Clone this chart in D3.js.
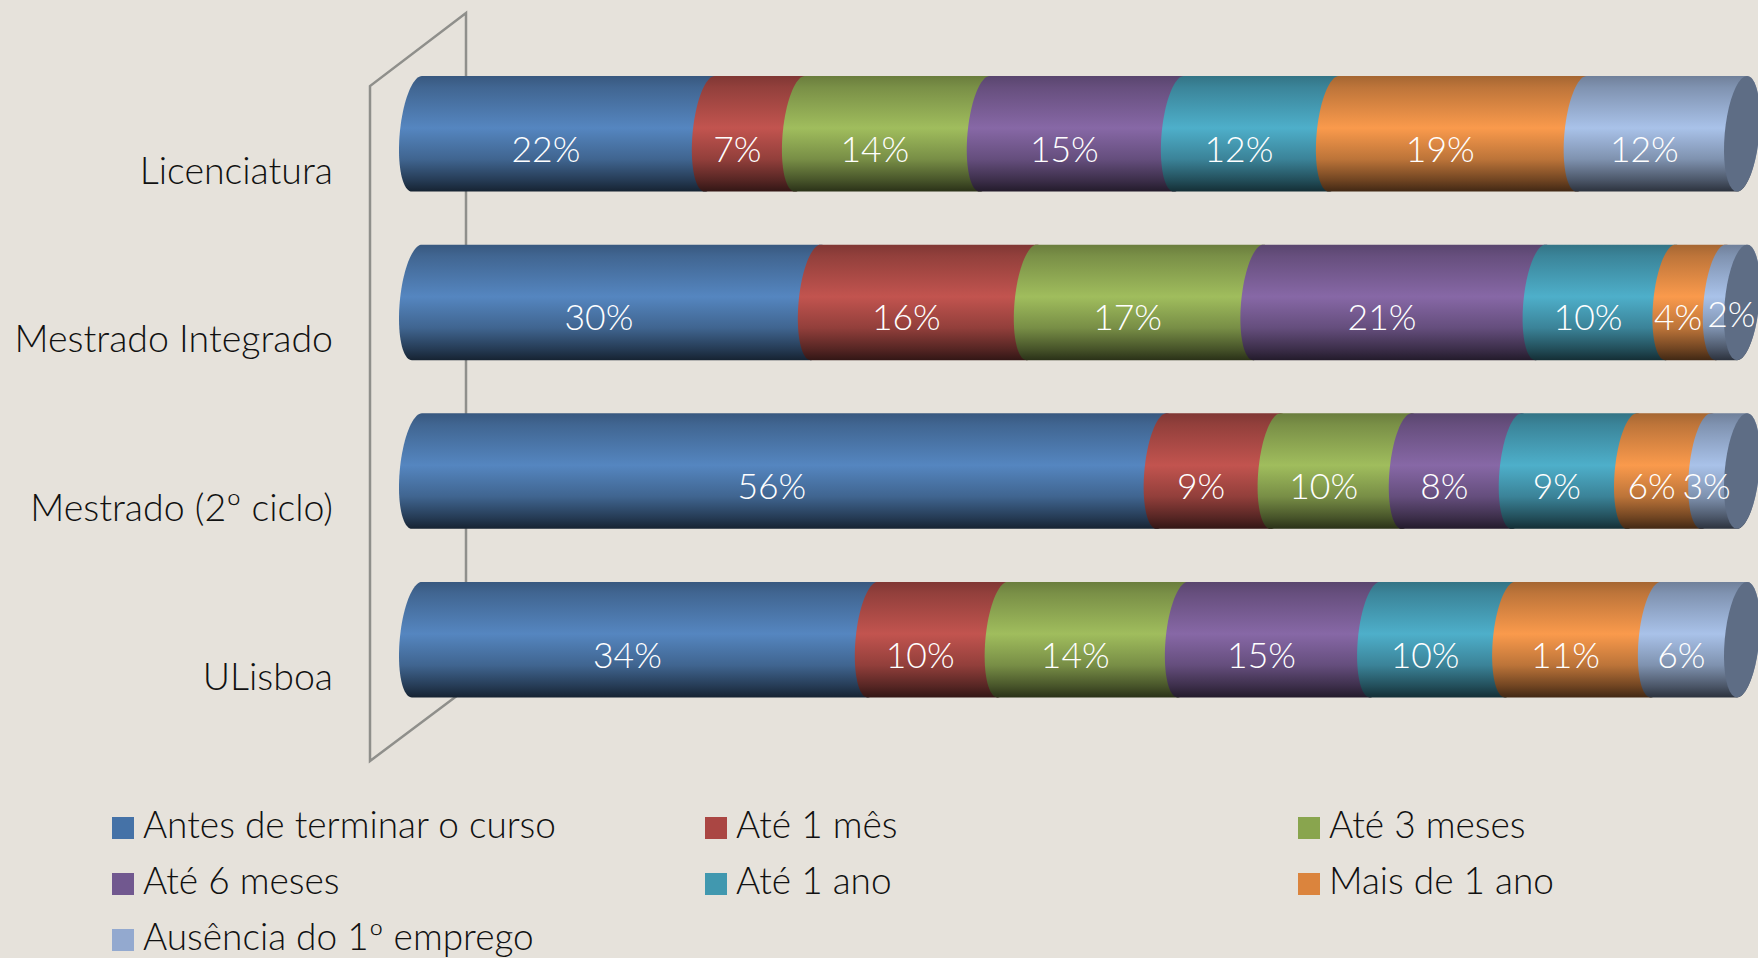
<!DOCTYPE html>
<html>
<head>
<meta charset="utf-8">
<title>Tempo até ao primeiro emprego</title>
<script src="https://cdnjs.cloudflare.com/ajax/libs/d3/7.8.5/d3.min.js"></script>
<style>
	html, body { margin: 0; padding: 0; background: #e6e2db; overflow: hidden; }
	text { font-family: Lato, "Open Sans", sans-serif; font-weight: 300; }
</style>
</head>
<body>
<div id="chart"></div>
<script>
const categories = ["Licenciatura", "Mestrado Integrado", "Mestrado (2º ciclo)", "ULisboa"];
const seriesNames = ["Antes de terminar o curso", "Até 1 mês", "Até 3 meses", "Até 6 meses", "Até 1 ano", "Mais de 1 ano", "Ausência do 1º emprego"];

// Values per category, read from the segment edges (percent)
const licenciatura = [22.1, 6.8, 13.95, 14.65, 11.7, 18.7, 12.1];
const mestradoIntegrado = [30.1, 16.3, 17.1, 21.3, 9.8, 3.8, 1.6];
const mestradoCiclo = [56.2, 8.6, 9.9, 8.3, 8.7, 5.6, 2.7];
const uLisboa = [34.4, 9.8, 13.6, 14.51, 10.19, 11.0, 6.49];

const barColours = ["#5586c0", "#c2544f", "#a0bd5d", "#8768a6", "#4eafca", "#fa9a4c", "#a9c2e9"];
const legendColours = ["#4572a7", "#aa4643", "#89a54e", "#71588f", "#4198af", "#db843d", "#93a9cf"];

const rows = [licenciatura, mestradoIntegrado, mestradoCiclo, uLisboa];
const table = categories.map((c, i) => {
	const row = {category: c};
	seriesNames.forEach((s, j) => row[s] = rows[i][j]);
	return row;
});

const width = 1758;
const height = 958;

const svg = d3.select('#chart')
	.append('svg')
	.attr('width', width)
	.attr('height', height)
	.style('display', 'block');

const xScale = d3.scaleLinear().domain([0, 100]).range([417, 1742]);
const yScale = d3.scaleBand().domain(categories).range([76, 697.5]).paddingInner(0.3145);

const stacked = d3.stack().keys(seriesNames)(table);

// Cylinder shading, one vertical gradient per series
const defs = svg.append('defs');
barColours.forEach((colour, i) => {
	const grad = defs.append('linearGradient')
		.attr('id', `shade${i}`)
		.attr('x1', 0).attr('x2', 0).attr('y1', 0).attr('y2', 1);
	const stops = [[0, 0.66], [0.1, 0.76], [0.45, 1], [0.72, 0.75], [0.9, 0.45], [1, 0.26]];
	stops.forEach((s) => {
		const c = d3.rgb(colour);
		grad.append('stop')
			.attr('offset', s[0])
			.attr('stop-color', d3.rgb(c.r * s[1], c.g * s[1], c.b * s[1]).formatHex());
	});
});

// Back wall of the 3D chart
const wallFront = 370;
const wallBack = 466;
const wall = d3.path();
wall.moveTo(wallBack, 689);
wall.lineTo(wallFront, 761);
wall.lineTo(wallFront, 86);
wall.lineTo(wallBack, 13);
wall.closePath();
svg.append('path')
	.attr('d', wall.toString())
	.attr('fill', 'none')
	.attr('stroke', '#8f8f8b')
	.attr('stroke-width', 2.5);

// Outline of a slanted ellipse end, sampled along the angle
const rx = 17.3;
const skew = 5;
const ry = yScale.bandwidth() / 2;
const line = d3.line();
function arcPoints(x, cy, from, to) {
	return d3.range(0, 41).map((k) => {
		const t = (from + (to - from) * k / 40) * Math.PI / 180;
		return [x + rx * Math.cos(t) - skew * Math.sin(t), cy + ry * Math.sin(t)];
	});
}

const groups = svg.selectAll('g.series')
	.data(stacked)
	.enter()
	.append('g')
	.attr('class', 'series');

groups.selectAll('path')
	.data((s) => s.map((d) => ({d: d, index: s.index})))
	.enter()
	.append('path')
	.attr('fill', (p) => `url(#shade${p.index})`)
	.attr('d', (p) => {
		const cy = yScale(p.d.data.category) + ry;
		const left = arcPoints(xScale(p.d[0]), cy, 270, 90);
		const right = arcPoints(xScale(p.d[1]), cy, 90, -90);
		return line(left.concat(right)) + 'Z';
	});

// End caps on the right
svg.selectAll('path.cap')
	.data(categories)
	.enter()
	.append('path')
	.attr('class', 'cap')
	.attr('fill', '#5e6d85')
	.attr('d', (c) => line(arcPoints(xScale(100), yScale(c) + ry, 0, 360)) + 'Z');

// Value labels, on top of the caps
const labelGroups = svg.selectAll('g.labels')
	.data(stacked)
	.enter()
	.append('g')
	.attr('class', 'labels');

labelGroups.selectAll('text')
	.data((s) => s.map((d) => ({d: d, value: d.data[s.key]})))
	.enter()
	.append('text')
	.attr('x', (p) => {
		const mid = xScale((p.d[0] + p.d[1]) / 2);
		return p.value < 2 ? mid : mid - 17.5;
	})
	.attr('y', (p) => yScale(p.d.data.category) + ry + (p.value < 2 ? 25 : 28))
	.attr('text-anchor', 'middle')
	.attr('fill', '#ffffff')
	.attr('font-size', 35.5)
	.text((p) => d3.format('.0f')(p.value) + '%');

// Category axis
const axis = svg.append('g')
	.attr('transform', 'translate(333, 0)')
	.call(d3.axisLeft(yScale).tickSize(0).tickPadding(0));
axis.select('.domain').remove();
axis.selectAll('text')
	.attr('dy', 0)
	.attr('y', 50)
	.attr('font-size', 37.5)
	.attr('fill', '#111111')
	.style('font-family', 'Lato, sans-serif');

// Legend
const legendX = d3.scalePoint().domain([0, 1, 2]).range([112, 1298]);
const legendY = d3.scalePoint().domain([0, 1, 2]).range([817, 929]);
const legend = svg.selectAll('g.legend')
	.data(seriesNames)
	.enter()
	.append('g')
	.attr('class', 'legend')
	.attr('transform', (s, i) => `translate(${legendX(i % 3)}, ${legendY(Math.floor(i / 3))})`);

legend.append('rect')
	.attr('width', 22)
	.attr('height', 22)
	.attr('fill', (s, i) => legendColours[i]);

legend.append('text')
	.attr('x', 31)
	.attr('y', 21)
	.attr('font-size', 37)
	.attr('fill', '#111111')
	.text((s) => s);
</script>
</body>
</html>
